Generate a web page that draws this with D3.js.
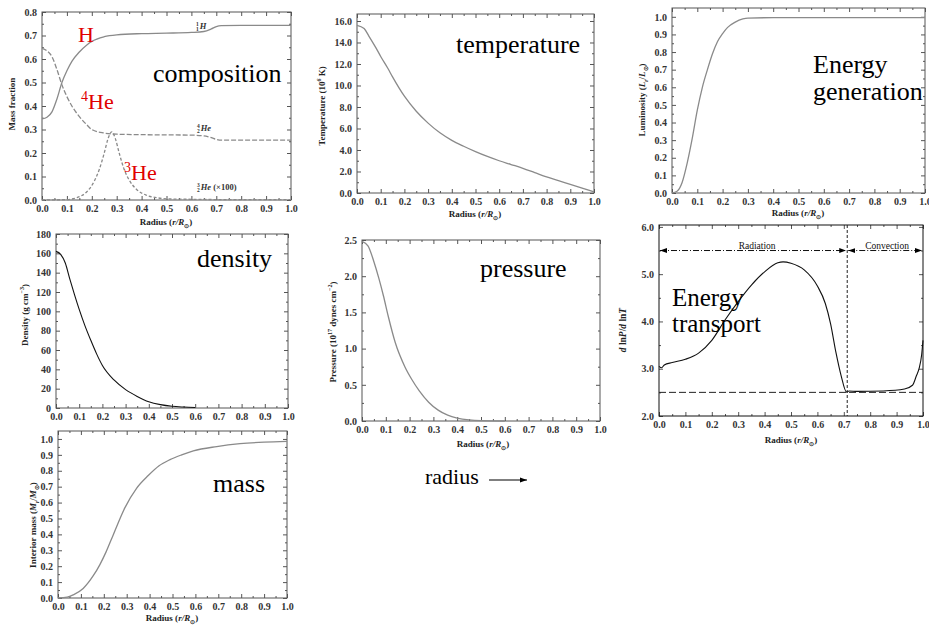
<!DOCTYPE html>
<html>
<head>
<meta charset="utf-8">
<script src="https://cdn.jsdelivr.net/npm/d3@7"></script>
<style>
  body { margin: 0; background: #fff; }
  svg { display: block; }
  svg text { font-family: "Liberation Serif", "Times New Roman", serif; }
</style>
</head>
<body>
<div id="chart"></div>
<script>
// ---- data (radius r/R_sun and the profile values) ----
const xTickVals = [0, 0.1, 0.2, 0.3, 0.4, 0.5, 0.6, 0.7, 0.8, 0.9, 1.0];
const xMinorVals = [0.05, 0.15, 0.25, 0.35, 0.45, 0.55, 0.65, 0.75, 0.85, 0.95];

const compTicks = [0, 0.1, 0.2, 0.3, 0.4, 0.5, 0.6, 0.7, 0.8];
const tempTicks = [0, 2, 4, 6, 8, 10, 12, 14, 16];
const lumTicks = [0, 0.1, 0.2, 0.3, 0.4, 0.5, 0.6, 0.7, 0.8, 0.9, 1.0];
const densTicks = [0, 20, 40, 60, 80, 100, 120, 140, 160, 180];
const presTicks = [0, 0.5, 1.0, 1.5, 2.0, 2.5];
const gradTicks = [2, 3, 4, 5, 6];
const massTicks = [0, 0.1, 0.2, 0.3, 0.4, 0.5, 0.6, 0.7, 0.8, 0.9, 1.0];

const hR   = [0, 0.02, 0.04, 0.06, 0.08, 0.1, 0.12, 0.15, 0.18, 0.2, 0.25, 0.3, 0.4, 0.5, 0.6, 0.65, 0.68, 0.7, 0.72, 0.8, 0.9, 1.0];
const hVal = [0.345, 0.352, 0.375, 0.43, 0.5, 0.55, 0.59, 0.63, 0.66, 0.675, 0.695, 0.703, 0.708, 0.71, 0.713, 0.717, 0.728, 0.738, 0.742, 0.743, 0.743, 0.743];

const he4R   = [0, 0.02, 0.04, 0.06, 0.08, 0.1, 0.12, 0.15, 0.18, 0.2, 0.25, 0.3, 0.4, 0.5, 0.6, 0.65, 0.68, 0.7, 0.72, 0.8, 1.0];
const he4Val = [0.645, 0.635, 0.61, 0.555, 0.49, 0.44, 0.4, 0.355, 0.32, 0.3, 0.285, 0.28, 0.278, 0.277, 0.276, 0.273, 0.265, 0.258, 0.255, 0.255, 0.255];

const he3R   = [0, 0.1, 0.14, 0.18, 0.21, 0.23, 0.25, 0.265, 0.28, 0.295, 0.31, 0.33, 0.35, 0.38, 0.42, 0.46, 0.5, 0.6, 0.7, 0.8, 1.0];
const he3Val = [0, 0.002, 0.01, 0.035, 0.08, 0.13, 0.2, 0.26, 0.29, 0.26, 0.2, 0.13, 0.085, 0.045, 0.02, 0.01, 0.005, 0.003, 0.002, 0.002, 0.002];

const tempR   = [0, 0.03, 0.05, 0.08, 0.1, 0.13, 0.15, 0.2, 0.25, 0.3, 0.35, 0.4, 0.45, 0.5, 0.55, 0.6, 0.65, 0.7, 0.75, 0.8, 0.85, 0.9, 0.95, 1.0];
const tempVal = [15.6, 15.3, 14.6, 13.5, 12.7, 11.6, 10.8, 9.0, 7.6, 6.5, 5.6, 4.9, 4.35, 3.85, 3.4, 3.0, 2.65, 2.3, 1.9, 1.5, 1.15, 0.8, 0.45, 0.1];

const lumR   = [0, 0.02, 0.04, 0.06, 0.08, 0.1, 0.12, 0.14, 0.16, 0.18, 0.2, 0.22, 0.25, 0.28, 0.3, 0.4, 0.6, 0.8, 1.0];
const lumVal = [0, 0.01, 0.06, 0.17, 0.31, 0.47, 0.6, 0.7, 0.79, 0.86, 0.905, 0.94, 0.97, 0.988, 0.993, 0.995, 0.995, 0.995, 0.995];

const densR   = [0, 0.02, 0.04, 0.06, 0.08, 0.1, 0.125, 0.15, 0.175, 0.2, 0.25, 0.3, 0.35, 0.4, 0.45, 0.5, 0.55, 0.6];
const densVal = [162, 159, 150, 133, 117, 102, 85, 70, 56, 44, 29, 19, 12, 6.5, 3.5, 1.8, 1, 0.5];

const presR   = [0, 0.025, 0.05, 0.07, 0.09, 0.11, 0.14, 0.18, 0.21, 0.24, 0.28, 0.32, 0.36, 0.4, 0.45, 0.5, 0.6];
const presVal = [2.48, 2.42, 2.2, 1.98, 1.73, 1.45, 1.08, 0.75, 0.57, 0.42, 0.26, 0.15, 0.08, 0.04, 0.015, 0.005, 0];

const gradR   = [0, 0.01, 0.02, 0.05, 0.1, 0.15, 0.2, 0.25, 0.3, 0.35, 0.4, 0.45, 0.47, 0.5, 0.55, 0.6, 0.63, 0.65, 0.67, 0.69, 0.71, 0.72, 0.75, 0.85, 0.93, 0.96, 0.975, 0.985, 0.995, 1.0];
const gradVal = [3.05, 3.02, 3.08, 3.13, 3.2, 3.33, 3.6, 4.03, 4.42, 4.77, 5.05, 5.24, 5.26, 5.23, 5.09, 4.75, 4.38, 3.95, 3.35, 2.85, 2.51, 2.53, 2.52, 2.53, 2.57, 2.65, 2.85, 3.0, 3.3, 3.6];
const adiabatic = 2.5;
const convBase = 0.713;
const arrowLevel = 5.5;

const massR   = [0, 0.04, 0.067, 0.11, 0.154, 0.183, 0.21, 0.242, 0.293, 0.343, 0.394, 0.44, 0.489, 0.54, 0.591, 0.693, 0.795, 0.9, 1.0];
const massVal = [0, 0.005, 0.02, 0.06, 0.14, 0.21, 0.29, 0.4, 0.57, 0.69, 0.77, 0.83, 0.87, 0.9, 0.925, 0.952, 0.97, 0.98, 0.985];

// ---- page ----
const serif = "'Liberation Serif', 'Times New Roman', serif";
const svg = d3.select("#chart").append("svg")
  .attr("width", 929)
  .attr("height", 626);

svg.append("defs").append("marker")
  .attr("id", "arrow")
  .attr("viewBox", "0 0 10 10")
  .attr("refX", 10).attr("refY", 5)
  .attr("markerWidth", 7).attr("markerHeight", 7)
  .attr("markerUnits", "userSpaceOnUse")
  .attr("orient", "auto-start-reverse")
  .append("path")
  .attr("d", "M0,1.5 L10,5 L0,8.5 Z")
  .attr("fill", "#000");

// text with sup/sub/italic pieces
function rich(text, parts, size) {
  let shift = 0;
  parts.forEach(([s, kind]) => {
    kind = kind || "";
    const t = text.append("tspan").text(s);
    const target = kind.includes("sup") ? -size * 0.4 : kind.includes("sub") ? size * 0.3 : 0;
    t.attr("dy", target - shift);
    shift = target;
    if (kind.includes("sup") || kind.includes("sub")) t.attr("font-size", size * 0.68);
    if (kind.includes("i")) t.attr("font-style", "italic");
  });
}

const radiusTitle = [["Radius ("], ["r/R", "i"], ["\u2299", "sub"], [")"]];

function drawPanel(p) {
  const x = d3.scaleLinear().domain([0, 1]).range([p.left, p.right]);
  const y = d3.scaleLinear().domain(p.yDomain).range([p.bottom, p.top]);
  const g = svg.append("g");
  const yMinor = d3.pairs(p.yTicks).map(d => (d[0] + d[1]) / 2);

  function axis(a, tr, vals, size, fmt) {
    const ax = g.append("g")
      .attr("transform", tr)
      .call(a.tickValues(vals).tickSizeInner(-size).tickSizeOuter(0).tickPadding(5).tickFormat(fmt || ""));
    ax.select(".domain").remove();
    ax.attr("color", "#333")
      .attr("font-family", serif)
      .attr("font-weight", "bold")
      .attr("font-size", 10);
    ax.selectAll("line").attr("stroke", "#555");
    return ax;
  }

  // minor ticks on all four sides
  axis(d3.axisBottom(x), `translate(0,${p.bottom})`, xMinorVals, 2);
  axis(d3.axisTop(x), `translate(0,${p.top})`, xMinorVals, 2);
  axis(d3.axisLeft(y), `translate(${p.left},0)`, yMinor, 2);
  axis(d3.axisRight(y), `translate(${p.right},0)`, yMinor, 2);
  // major ticks
  axis(d3.axisBottom(x), `translate(0,${p.bottom})`, xTickVals, 4, d3.format(".1f"));
  axis(d3.axisTop(x), `translate(0,${p.top})`, xTickVals, 4);
  axis(d3.axisLeft(y), `translate(${p.left},0)`, p.yTicks, 4, d3.format(p.fmt));
  axis(d3.axisRight(y), `translate(${p.right},0)`, p.yTicks, 4);

  g.append("rect")
    .attr("x", p.left).attr("y", p.top)
    .attr("width", p.right - p.left).attr("height", p.bottom - p.top)
    .attr("fill", "none")
    .attr("stroke", p.frame || "#555")
    .attr("stroke-width", 1);

  // y title
  const yt = g.append("text")
    .attr("transform", `translate(${p.yTitle[0]},${p.yTitle[1]}) rotate(-90)`)
    .attr("text-anchor", "middle")
    .attr("font-weight", "bold")
    .attr("font-size", p.yTitleSize || 9)
    .attr("fill", "#222");
  rich(yt, p.yLabel, p.yTitleSize || 9);

  if (p.xTitle) {
    const xt = g.append("text")
      .attr("x", p.xTitle[0]).attr("y", p.xTitle[1])
      .attr("text-anchor", "middle")
      .attr("font-weight", "bold")
      .attr("font-size", 9)
      .attr("fill", "#222");
    rich(xt, radiusTitle, 9);
  }

  const line = d3.line()
    .x(d => x(d[0]))
    .y(d => y(d[1]))
    .curve(d3.curveMonotoneX);

  p.series.forEach(s => {
    g.append("path")
      .datum(d3.zip(s.r, s.v))
      .attr("d", line)
      .attr("fill", "none")
      .attr("stroke", s.color || "#8a8a8a")
      .attr("stroke-width", s.width || 1.3)
      .attr("stroke-dasharray", s.dash || null);
  });

  p.words.forEach(w => {
    g.append("text")
      .attr("x", w[1]).attr("y", w[2])
      .attr("font-size", w[3] || 26)
      .attr("fill", "#000")
      .text(w[0]);
  });

  return { g, x, y };
}

// composition
const comp = drawPanel({
  left: 42, right: 291, top: 12, bottom: 200,
  yDomain: [0, 0.8], yTicks: compTicks, fmt: ".1f",
  yTitle: [15, 104], yLabel: [["Mass fraction"]],
  xTitle: [166, 225],
  series: [
    { r: hR, v: hVal },
    { r: he4R, v: he4Val, dash: "5,2" },
    { r: he3R, v: he3Val, dash: "3,2" }
  ],
  words: [["composition", 153, 82]]
});

function isotope(g, x, y, top, bot, sym, extra) {
  const t = g.append("text")
    .attr("x", x).attr("y", y)
    .attr("font-weight", "bold")
    .attr("font-size", 8.5)
    .attr("fill", "#333");
  t.append("tspan").attr("font-size", 5.5).attr("dy", -3.5).text(top);
  t.append("tspan").attr("font-size", 5.5).attr("x", x).attr("dy", 5).text(bot);
  t.append("tspan").attr("font-style", "italic").attr("dx", 1).attr("dy", -1.5).text(sym);
  if (extra) t.append("tspan").text(extra);
}
isotope(comp.g, 196, 29, "1", "1", "H");
isotope(comp.g, 197, 131, "4", "2", "He");
isotope(comp.g, 197, 190, "3", "2", "He", " (\u00d7100)");

function redLabel(x, y, sup, main) {
  const t = svg.append("text")
    .attr("x", x).attr("y", y)
    .attr("font-size", 22)
    .attr("fill", "#e00000");
  if (sup) t.append("tspan").attr("font-size", 14).attr("dy", -8).text(sup);
  t.append("tspan").attr("dy", sup ? 8 : 0).text(main);
}
redLabel(78, 42, null, "H");
redLabel(81, 109, "4", "He");
redLabel(124, 180, "3", "He");

// temperature
drawPanel({
  left: 357, right: 594, top: 14, bottom: 193,
  yDomain: [0, 16.65], yTicks: tempTicks, fmt: ".1f",
  yTitle: [325, 106], yLabel: [["Temperature (10"], ["6", "sup"], [" K)"]],
  xTitle: [475, 217],
  series: [{ r: tempR, v: tempVal }],
  words: [["temperature", 456, 53]]
});

// luminosity
drawPanel({
  left: 672, right: 925, top: 8, bottom: 193,
  yDomain: [0, 1.05], yTicks: lumTicks, fmt: ".1f",
  yTitle: [645, 100], yLabel: [["Luminosity ("], ["L", "i"], ["r", "isub"], ["/"], ["L", "i"], ["\u2299", "sub"], [")"]],
  xTitle: [798, 216],
  series: [{ r: lumR, v: lumVal }],
  words: [["Energy", 813, 73], ["generation", 813, 100]]
});

// density
drawPanel({
  left: 56, right: 288, top: 234, bottom: 408,
  yDomain: [0, 180], yTicks: densTicks, fmt: "d",
  yTitle: [28, 315], yLabel: [["Density (g cm"], ["\u22123", "sup"], [")"]],
  xTitle: null,
  series: [{ r: densR, v: densVal, color: "#111", width: 1.1 }],
  words: [["density", 197, 267]]
});

// pressure
drawPanel({
  left: 362, right: 600, top: 240, bottom: 421,
  yDomain: [0, 2.5], yTicks: presTicks, fmt: ".1f",
  yTitle: [336, 332], yLabel: [["Pressure (10"], ["17", "sup"], [" dynes cm"], ["\u22122", "sup"], [")"]],
  xTitle: [483, 447],
  series: [{ r: presR, v: presVal }],
  words: [["pressure", 480, 277]]
});

// energy transport
const grad = drawPanel({
  left: 659, right: 923, top: 225, bottom: 416,
  yDomain: [2, 6.04], yTicks: gradTicks, fmt: ".1f",
  frame: "#111",
  yTitle: [626, 330], yTitleSize: 9.5,
  yLabel: [["d", "i"], [" ln"], ["P", "i"], ["/"], ["d", "i"], [" ln"], ["T", "i"]],
  xTitle: [791, 443],
  series: [{ r: gradR, v: gradVal, color: "#111", width: 1.1 }],
  words: [["Energy", 672, 306, 25], ["transport", 672, 332, 25]]
});

grad.g.append("line")
  .attr("x1", grad.x(0)).attr("x2", grad.x(1))
  .attr("y1", grad.y(adiabatic)).attr("y2", grad.y(adiabatic))
  .attr("stroke", "#222").attr("stroke-width", 1)
  .attr("stroke-dasharray", "7,3");

grad.g.append("line")
  .attr("x1", grad.x(convBase)).attr("x2", grad.x(convBase))
  .attr("y1", grad.y(6.04)).attr("y2", grad.y(2))
  .attr("stroke", "#222").attr("stroke-width", 1)
  .attr("stroke-dasharray", "3,2");

[[0, convBase, "Radiation"], [convBase, 1, "Convection"]].forEach(([a, b, label]) => {
  grad.g.append("line")
    .attr("x1", grad.x(a) + 1).attr("x2", grad.x(b) - 1)
    .attr("y1", grad.y(arrowLevel)).attr("y2", grad.y(arrowLevel))
    .attr("stroke", "#111").attr("stroke-width", 1)
    .attr("stroke-dasharray", "6,2,1,2")
    .attr("marker-start", "url(#arrow)")
    .attr("marker-end", "url(#arrow)");
  grad.g.append("text")
    .attr("x", grad.x((a + b) / 2) + (label === "Radiation" ? 4 : 2))
    .attr("y", grad.y(arrowLevel) - 2)
    .attr("text-anchor", "middle")
    .attr("font-size", 9.5)
    .attr("fill", "#111")
    .text(label);
});

// interior mass
drawPanel({
  left: 58, right: 287, top: 431, bottom: 598,
  yDomain: [0, 1.05], yTicks: massTicks, fmt: ".1f",
  yTitle: [36, 525], yLabel: [["Interior mass ("], ["M", "i"], ["r", "isub"], ["/"], ["M", "i"], ["\u2299", "sub"], [")"]],
  xTitle: [172, 621],
  series: [{ r: massR, v: massVal }],
  words: [["mass", 213, 492]]
});

// radius arrow
svg.append("text")
  .attr("x", 425).attr("y", 484)
  .attr("font-size", 22)
  .attr("fill", "#000")
  .text("radius");
svg.append("line")
  .attr("x1", 489).attr("x2", 527)
  .attr("y1", 480).attr("y2", 480)
  .attr("stroke", "#000").attr("stroke-width", 1.2)
  .attr("marker-end", "url(#arrow)");
</script>
</body>
</html>
